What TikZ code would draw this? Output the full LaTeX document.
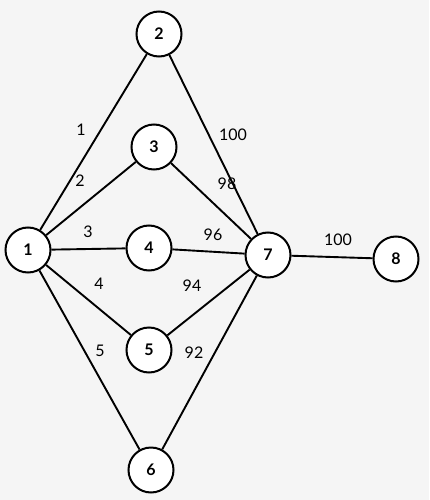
\documentclass[tikz,border=0pt]{standalone}
\usepackage{fontspec}
\setmainfont{Lato}
\usetikzlibrary{positioning}
\definecolor{cback}{HTML}{F5F5F5}

\begin{document}
\begin{tikzpicture}[
  x=1pt, y=-1pt,
  vertex/.style={
    circle, draw=black, fill=white, line width=2pt,
    minimum size=45pt, inner sep=0pt, font=\bfseries\fontsize{16}{18}\selectfont
  },
  weight/.style={
    font=\fontsize{16}{18}\selectfont, inner sep=1pt
  },
  link/.style={
    draw=black, line width=1.9pt
  }
]
\fill[cback] (0,0) rectangle (429,500);
\useasboundingbox (0,0) rectangle (429,500);

% vertices
\node[vertex] (v1) at (28, 250) {1};
\node[vertex] (v2) at (159, 34) {2};
\node[vertex] (v3) at (154, 147) {3};
\node[vertex] (v4) at (149, 248) {4};
\node[vertex] (v5) at (149, 350) {5};
\node[vertex] (v6) at (151, 470) {6};
\node[vertex] (v7) at (268, 255) {7};
\node[vertex] (v8) at (396, 259) {8};

% edges
\foreach \t in {2, 3, 4, 5, 6} {
  \draw[link] (v1) -- (v\t);
  \draw[link] (v\t) -- (v7);
}
\draw[link] (v7) -- (v8);

% weights
\node[weight] (w12) at (81, 130) {1};
\node[weight] (w13) at (80, 181) {2};
\node[weight] (w14) at (88, 232) {3};
\node[weight] (w15) at (99, 284) {4};
\node[weight] (w16) at (100, 351) {5};
\node[weight] (w27) at (233, 135) {100};
\node[weight] (w37) at (227, 184) {98};
\node[weight] (w47) at (213, 235) {96};
\node[weight] (w57) at (192, 286) {94};
\node[weight] (w67) at (194, 353) {92};
\node[weight] (w78) at (338, 240) {100};

\end{tikzpicture}
\end{document}
